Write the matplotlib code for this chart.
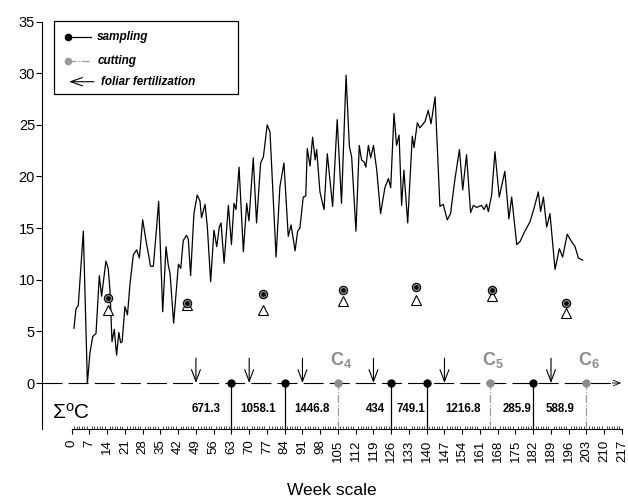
import matplotlib
matplotlib.use("Agg")
import matplotlib.pyplot as plt
import numpy as np

plt.rcParams['font.family'] = ['Liberation Sans', 'DejaVu Sans']
plt.rcParams['mathtext.fontset'] = 'custom'
plt.rcParams['mathtext.rm'] = 'Liberation Sans'
plt.rcParams['mathtext.bf'] = 'Liberation Sans:bold'
plt.rcParams['mathtext.it'] = 'Liberation Sans:italic'

# temperature curve (day, value)
days = [0.9, 1.7, 2.6, 4.6, 6.2, 7.2, 8.3, 9.6, 10.9, 11.8, 13.5, 14.4, 15.1, 15.9,
        16.8, 17.7, 18.6, 19.3, 19.9, 21.0, 22.0, 23.0, 24.3, 25.6, 26.7, 28.0, 29.3,
        30.2, 31.1, 32.2, 33.3, 34.3, 35.9, 37.2, 38.1, 38.8, 40.2, 42.1, 43.0, 44.0,
        45.3, 46.0, 46.9, 48.2, 49.5, 50.6, 51.2, 52.6, 53.5, 54.8, 56.1, 57.2, 58.2,
        58.9, 60.1, 61.8, 63.0, 64.0, 64.8, 66.0, 67.7, 69.0, 69.9, 71.6, 72.9, 74.5,
        75.6, 77.1, 78.2, 80.6, 82.1, 83.7, 85.4, 86.5, 88.1, 89.1, 90.0, 91.3, 92.3,
        92.9, 94.0, 95.0, 96.0, 96.6, 97.9, 99.5, 100.8, 101.9, 102.9, 104.7, 106.4,
        108.2, 109.5, 110.4, 112.1, 113.4, 114.3, 115.3, 116.0, 117.0, 117.9, 119.0,
        120.3, 121.8, 123.5, 124.9, 125.8, 127.1, 128.1, 129.1, 130.1, 131.0, 132.5,
        134.3, 135.0, 136.3, 137.3, 139.3, 140.6, 141.7, 143.3, 145.2, 146.5, 148.1,
        149.4, 151.1, 152.9, 154.2, 155.7, 157.3, 158.4, 159.7, 161.6, 162.6, 163.6,
        164.3, 165.6, 166.9, 168.6, 170.8, 172.4, 173.5, 175.5, 176.8, 178.7, 180.7,
        182.3, 184.0, 184.9, 186.0, 187.3, 188.6, 190.6, 192.3, 193.6, 195.4, 197.1,
        198.5, 199.8, 201.5]
temps = [5.3, 7.2, 7.5, 14.7, 0.0, 2.9, 4.5, 4.8, 10.4, 8.4, 11.8, 11.1, 9.0, 4.0,
         5.2, 2.7, 4.9, 3.9, 4.0, 7.4, 6.6, 9.6, 12.4, 12.9, 12.1, 15.8, 13.8,
         12.6, 11.3, 11.3, 14.5, 17.6, 6.9, 13.2, 11.4, 10.6, 5.8, 11.5, 11.1, 13.8,
         14.3, 13.9, 10.4, 16.4, 18.2, 17.6, 16.0, 17.3, 15.1, 9.8, 14.8, 13.2, 15.1,
         15.5, 11.6, 17.2, 13.4, 17.4, 16.8, 20.9, 12.7, 17.4, 15.7, 21.8, 15.5, 21.3,
         21.9, 25.0, 24.3, 12.2, 19.0, 21.3, 14.2, 15.3, 12.8, 14.7, 15.0, 18.0, 18.1,
         22.7, 21.0, 23.8, 21.6, 22.6, 18.5, 16.8, 22.2, 19.5, 17.1, 25.5, 17.4,
         29.8, 22.9, 21.9, 14.7, 23.0, 21.6, 21.4, 20.9, 23.0, 21.8, 23.0,
         20.6, 16.4, 18.9, 19.8, 18.9, 26.1, 23.0, 24.0, 17.2, 20.6, 15.5,
         23.9, 22.8, 25.2, 24.7, 25.3, 26.4, 25.1, 27.7, 17.1, 17.3, 15.8,
         16.4, 19.7, 22.6, 18.7, 22.1, 16.5, 17.2, 17.0, 17.2, 16.8, 17.3,
         16.6, 18.2, 22.4, 18.0, 20.5, 15.9, 18.0, 13.4, 13.7, 14.7, 15.6,
         16.9, 18.5, 16.6, 18.0, 15.1, 16.4, 11.0, 13.0, 12.2, 14.4, 13.7,
         13.2, 12.1, 11.9]

# symbols above the zero line
sym_days = [14.4, 45.3, 75.6, 106.8, 135.8, 165.9, 194.9]
circle_vals = [8.2, 7.75, 8.65, 9.0, 9.25, 9.0, 7.7]
triangle_vals = [7.05, 7.55, 7.05, 7.9, 8.05, 8.45, 6.75]

sampling_days = [63, 84, 126, 140, 182]
cutting_days = [105, 165, 203]
cutting_names = ['4', '5', '6']
fert_days = [49, 70, 91, 119, 147, 189]

sum_labels = ['671.3', '1058.1', '1446.8', '434', '749.1', '1216.8', '285.9', '588.9']
sum_pos = [53.2, 73.6, 94.7, 119.6, 133.6, 154.4, 175.5, 192.7]

week_ticks = list(range(0, 218, 7))

fig = plt.figure(figsize=(6.28, 5.04), dpi=100)
ax = fig.add_axes([42 / 628, 75 / 504, 580 / 628, 407.5 / 504])
ax.set_xlim(-11.7, 217)
ax.set_ylim(-4.45, 35)

ax.spines['top'].set_visible(False)
ax.spines['right'].set_visible(False)
ax.spines['bottom'].set_bounds(0, 217)
ax.spines['left'].set_linewidth(0.8)
ax.spines['bottom'].set_linewidth(0.8)

ax.set_yticks(range(0, 36, 5))
ax.set_xticks(week_ticks)
ax.set_xticklabels([str(t) for t in week_ticks], rotation=90)
ax.set_xticks(np.arange(0, 218), minor=True)
ax.tick_params(axis='y', direction='out', length=4, width=0.8, pad=1, labelsize=10.5)
ax.tick_params(axis='x', which='major', direction='out', length=3.5, width=0.8,
               pad=4, labelsize=9.5)
ax.tick_params(axis='x', which='minor', direction='in', length=2.2, width=0.5)
ax.set_xlabel('Week scale', fontsize=12.5, labelpad=15)

# zero line
ax.hlines(0, -11.7, 215, colors='black', lw=0.8, linestyles=(0, (18, 5.5)), clip_on=False)
ax.annotate('', xy=(217.8, 0), xytext=(212, 0),
            arrowprops=dict(arrowstyle='->,head_length=0.5,head_width=0.2', lw=0.6,
                            color='black'), annotation_clip=False)

# temperature curve
ax.plot(days, temps, color='black', lw=0.9)

# symbols
ax.plot(sym_days, triangle_vals, ls='none', marker='^', ms=6.5, mfc='white',
        mec='black', mew=0.8)
ax.plot(sym_days, circle_vals, ls='none', marker='o', ms=6, mfc='#8a8a8a',
        mec='black', mew=0.8)
ax.plot(sym_days, circle_vals, ls='none', marker='o', ms=2.3, mfc='black', mec='black')

# sampling and cutting
ax.vlines(sampling_days, -4.45, 0, colors='black', lw=0.9)
ax.plot(sampling_days, [0] * len(sampling_days), ls='none', marker='o', ms=5,
        color='black')
ax.vlines(cutting_days, -4.45, 0, colors='#999999', lw=0.9, linestyles='-.')
ax.plot(cutting_days, [0] * len(cutting_days), ls='none', marker='o', ms=5,
        color='#8c8c8c')
for d, n in zip(cutting_days, cutting_names):
    ax.text(d - 3.2, 1.7, r'$\mathbf{C}_{\mathbf{%s}}$' % n, color='#8c8c8c',
            fontsize=13, ha='left', va='baseline')

# foliar fertilization arrows
for d in fert_days:
    ax.annotate('', xy=(d, 0), xytext=(d, 2.4),
                arrowprops=dict(arrowstyle='->,head_length=0.85,head_width=0.32',
                                lw=0.8, color='black', shrinkA=0, shrinkB=0))

# degree-day sums
for p, s in zip(sum_pos, sum_labels):
    ax.text(p, -2.5, s, fontsize=8.3, fontweight='bold', ha='center', va='center')
ax.text(-7.8, -3.42, r'$\Sigma^{\mathrm{o}}\mathrm{C}$', fontsize=15, ha='left',
        va='baseline')

# legend box
def fx(x):
    return x / 628

def fy(y):
    return 1 - y / 504

fig.patches.append(plt.Rectangle((fx(54), fy(94.3)), fx(183.7), 73.3 / 504,
                                 transform=fig.transFigure, fill=False, lw=0.9,
                                 edgecolor='black'))
fig.lines.append(plt.Line2D([fx(68), fx(90.7)], [fy(37.3), fy(37.3)], color='black',
                            lw=0.9, marker='o', ms=4.5, markevery=[0],
                            transform=fig.transFigure))
fig.lines.append(plt.Line2D([fx(68), fx(90.7)], [fy(60.7), fy(60.7)], color='#999999',
                            lw=0.9, ls='-.', marker='o', ms=4.5, markevery=[0],
                            transform=fig.transFigure))
ax.annotate('', xy=(fx(69), fy(81.7)), xytext=(fx(94), fy(81.7)),
            xycoords='figure fraction', textcoords='figure fraction',
            arrowprops=dict(arrowstyle='->,head_length=0.85,head_width=0.3', lw=0.8,
                            color='black', shrinkA=0, shrinkB=0))
leg_font = dict(fontsize=8.5, fontweight='bold', fontstyle='italic', va='center')
fig.text(fx(97), fy(37.3), 'sampling', **leg_font)
fig.text(fx(98), fy(60.7), 'cutting', **leg_font)
fig.text(fx(100.7), fy(81.7), 'foliar fertilization', **leg_font)

fig.savefig('out.png', dpi=100)
